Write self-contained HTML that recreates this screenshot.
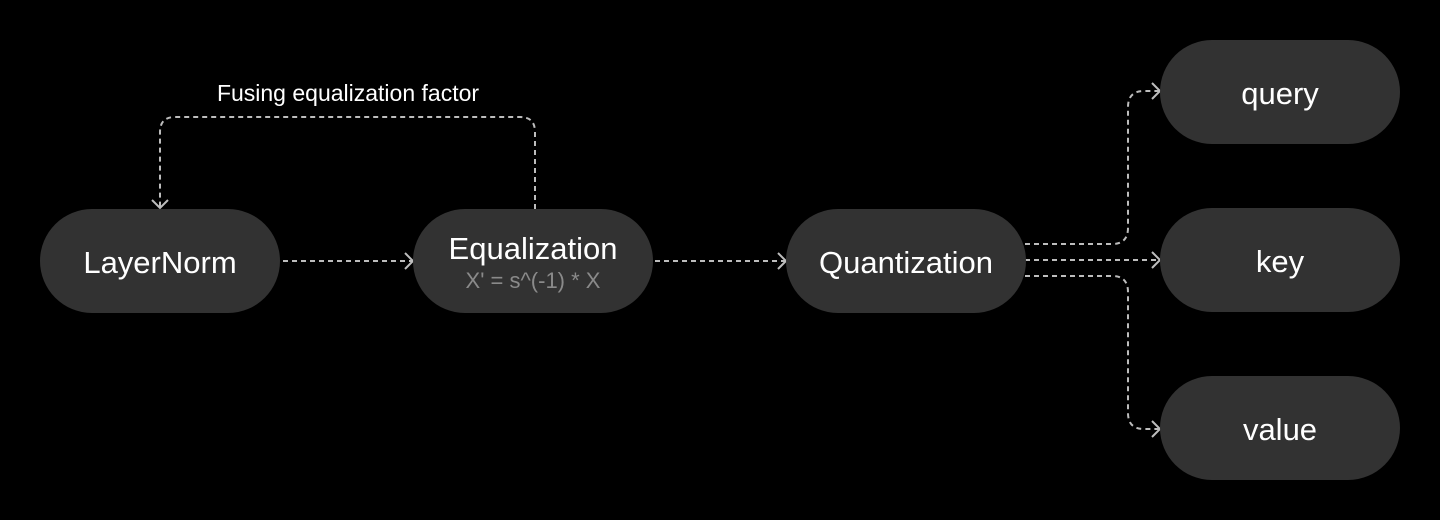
<!DOCTYPE html>
<html><head><style>
body{margin:0;background:#000;width:1440px;height:520px;overflow:hidden}
.n{position:absolute;background:#323232;border-radius:52px;width:240px;height:104px;display:flex;flex-direction:column;align-items:center;justify-content:center;color:#fff;font-family:"Liberation Sans",sans-serif;font-size:31px;padding-top:4px;box-sizing:border-box}
.s{color:#8a8a8a;font-size:22px;margin-top:1px}
</style></head><body>
<svg width="1440" height="520" style="position:absolute;left:0;top:0">
<g fill="none" stroke="#bdbdbd" stroke-width="2" stroke-dasharray="5,4">
<path d="M283 261H413"/>
<path d="M655 261H786"/>
<path d="M1025 260H1160"/>
<path d="M1025 244H1112Q1128 244 1128 228V107Q1128 91 1144 91H1160"/>
<path d="M1025 276H1112Q1128 276 1128 292V413Q1128 429 1144 429H1160"/>
<path d="M535 209V132Q535 117 520 117H175Q160 117 160 132V208"/>
</g>
<g fill="none" stroke="#bdbdbd" stroke-width="2">
<path d="M405 253L413 261L405 269"/>
<path d="M778 253L786 261L778 269"/>
<path d="M1152 252L1160 260L1152 268"/>
<path d="M1152 83L1160 91L1152 99"/>
<path d="M1152 421L1160 429L1152 437"/>
<path d="M152 200L160 208L168 200"/>
</g>
<text x="348" y="101" fill="#fff" font-family="Liberation Sans,sans-serif" font-size="23" text-anchor="middle">Fusing equalization factor</text>
</svg>
<div class="n" style="left:40px;top:209px">LayerNorm</div>
<div class="n" style="left:413px;top:209px;padding-top:2px"><div>Equalization</div><div class="s">X' = s^(-1) * X</div></div>
<div class="n" style="left:786px;top:209px">Quantization</div>
<div class="n" style="left:1160px;top:40px">query</div>
<div class="n" style="left:1160px;top:208px">key</div>
<div class="n" style="left:1160px;top:376px">value</div>
</body></html>
